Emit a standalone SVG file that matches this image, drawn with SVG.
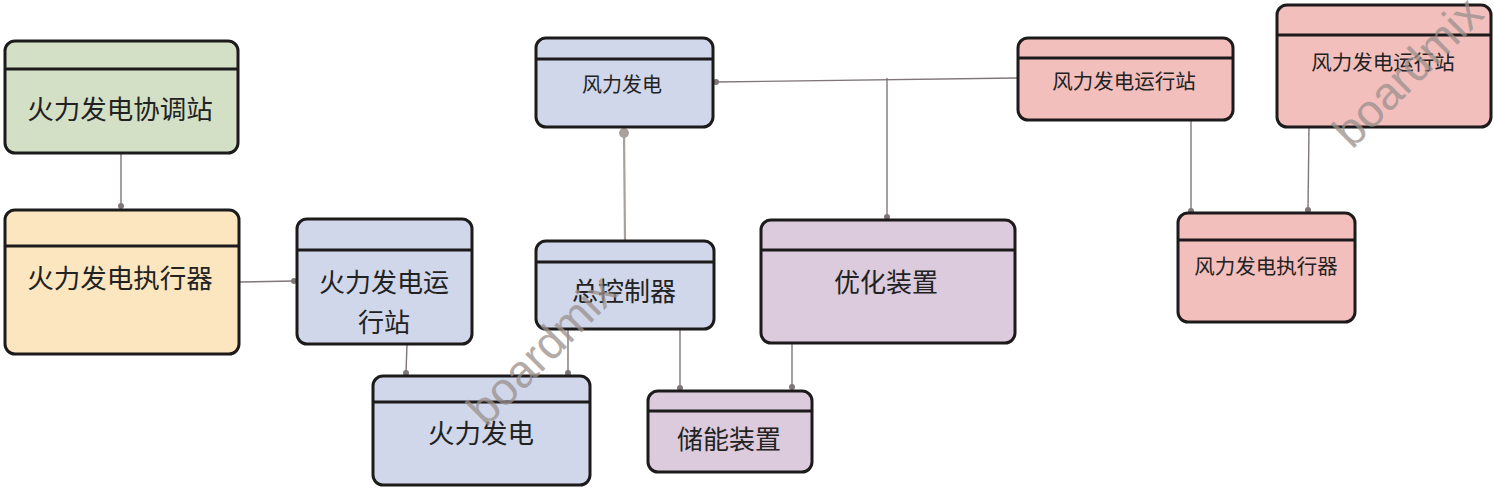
<svg xmlns="http://www.w3.org/2000/svg" width="1494" height="491" viewBox="0 0 1494 491">
<style>
.box{stroke:#1c1a1a;stroke-width:3}
.hl{stroke:#1c1a1a;stroke-width:3}
.g{fill:#d3e0c6}.y{fill:#fbe6c0}.b{fill:#d0d7ea}.p{fill:#dccadd}.r{fill:#f2bfbd}
.t{font-family:"Noto Sans CJK SC","Noto Sans",sans-serif;fill:#222;text-anchor:middle;dominant-baseline:central}
.c{stroke:#7f7677;stroke-width:1.4;fill:none}
.d{fill:#7f7677}
.wm{font-family:"Liberation Sans",Arial,sans-serif;font-size:46px;fill:#9a908c;opacity:0.75}
</style>
<g id="connectors">
<line class="c" x1="121" y1="153" x2="121" y2="206"/><circle class="d" cx="121" cy="206" r="3"/>
<line class="c" x1="239" y1="282" x2="294" y2="281"/><circle class="d" cx="294" cy="281" r="3"/>
<line class="c" x1="407" y1="344" x2="406" y2="373"/><circle class="d" cx="406" cy="373" r="3"/>
<line class="c" x1="568" y1="329" x2="568" y2="373"/><circle class="d" cx="568" cy="373" r="3"/>
<line x1="625" y1="240" x2="624" y2="133" stroke="#a9a09c" stroke-width="2.2"/><circle cx="624" cy="133" r="5" fill="#a9a09c"/>
<line class="c" x1="716" y1="82" x2="1017" y2="78"/><circle class="d" cx="716" cy="82" r="3"/>
<line class="c" x1="887" y1="78" x2="887" y2="217"/><circle class="d" cx="887" cy="217" r="3"/>
<line class="c" x1="680" y1="329" x2="680" y2="388"/><circle class="d" cx="680" cy="388" r="3"/>
<line class="c" x1="792" y1="343" x2="792" y2="387"/><circle class="d" cx="792" cy="387" r="3"/>
<line class="c" x1="1191" y1="120" x2="1191" y2="211"/><circle class="d" cx="1191" cy="211" r="3"/>
<line class="c" x1="1309" y1="127" x2="1308" y2="210"/><circle class="d" cx="1308" cy="210" r="3"/>
</g>
<g id="n1"><rect class="box g" x="5" y="41" width="233" height="112" rx="10"/><line class="hl" x1="5" y1="69" x2="238" y2="69"/><text class="t" x="120" y="107" font-size="26.5">火力发电协调站</text></g>
<g id="n2"><rect class="box y" x="5" y="210" width="234" height="144" rx="10"/><line class="hl" x1="5" y1="246" x2="239" y2="246"/><text class="t" x="120" y="276" font-size="26.5">火力发电执行器</text></g>
<g id="n3"><rect class="box b" x="297" y="219" width="175" height="125" rx="10"/><line class="hl" x1="297" y1="250" x2="472" y2="250"/><text class="t" x="384" y="280" font-size="26">火力发电运</text><text class="t" x="384" y="320" font-size="26">行站</text></g>
<g id="n4"><rect class="box b" x="373" y="376" width="217" height="109" rx="10"/><line class="hl" x1="373" y1="402" x2="590" y2="402"/><text class="t" x="481" y="431" font-size="26.5">火力发电</text></g>
<g id="n5"><rect class="box b" x="536" y="38" width="177" height="89" rx="10"/><line class="hl" x1="536" y1="59" x2="713" y2="59"/><text class="t" x="622" y="83" font-size="20">风力发电</text></g>
<g id="n6"><rect class="box b" x="536" y="241" width="178" height="88" rx="10"/><line class="hl" x1="536" y1="262" x2="714" y2="262"/><text class="t" x="624" y="289" font-size="26">总控制器</text></g>
<g id="n7"><rect class="box p" x="761" y="220" width="254" height="123" rx="10"/><line class="hl" x1="761" y1="250" x2="1015" y2="250"/><text class="t" x="886" y="280" font-size="26">优化装置</text></g>
<g id="n8"><rect class="box p" x="648" y="391" width="164" height="81" rx="10"/><line class="hl" x1="648" y1="411" x2="812" y2="411"/><text class="t" x="729" y="437" font-size="26">储能装置</text></g>
<g id="n9"><rect class="box r" x="1018" y="38" width="215" height="82" rx="10"/><line class="hl" x1="1018" y1="58" x2="1233" y2="58"/><text class="t" x="1124" y="80" font-size="20.5">风力发电运行站</text></g>
<g id="n10"><rect class="box r" x="1277" y="5" width="214" height="122" rx="10"/><line class="hl" x1="1277" y1="35" x2="1491" y2="35"/><text class="t" x="1383" y="61" font-size="20.5">风力发电运行站</text></g>
<g id="n11"><rect class="box r" x="1178" y="213" width="177" height="109" rx="10"/><line class="hl" x1="1178" y1="240" x2="1355" y2="240"/><text class="t" x="1266" y="265" font-size="20.5">风力发电执行器</text></g>
<text class="wm" transform="translate(486,428) rotate(-45)">boardmix</text>
<text class="wm" transform="translate(1352,150) rotate(-45)">boardmix</text>
</svg>
